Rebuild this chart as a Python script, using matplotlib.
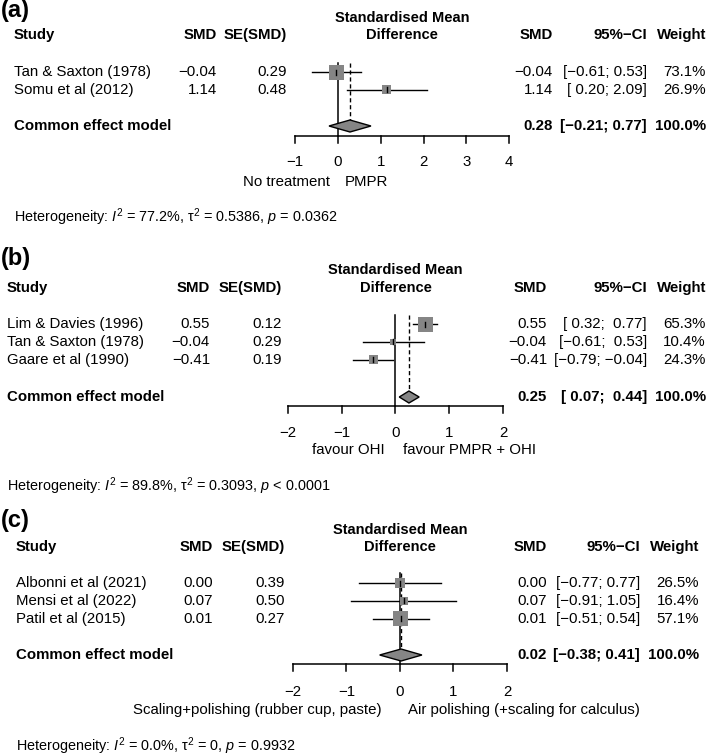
import numpy as np
import matplotlib.pyplot as plt
from matplotlib.patches import Polygon

plt.rcParams['font.family'] = ['Liberation Sans', 'DejaVu Sans']
plt.rcParams['mathtext.fontset'] = 'custom'
plt.rcParams['mathtext.rm'] = 'Liberation Sans'
plt.rcParams['mathtext.it'] = 'Liberation Sans:italic'
plt.rcParams['mathtext.bf'] = 'Liberation Sans:bold'

# ---- panel (a) ----
studies_a = ["Tan & Saxton (1978)", "Somu et al (2012)"]
smd_a = [-0.04, 1.14]
se_a = [0.29, 0.48]
lo_a = [-0.61, 0.20]
hi_a = [0.53, 2.09]
weight_a = [73.1, 26.9]
pooled_a = [0.28, -0.21, 0.77]
ticks_a = [-1, 0, 1, 2, 3, 4]
sides_a = ["No treatment", "PMPR"]
het_a = ["77.2%", "0.5386", "= 0.0362"]

# ---- panel (b) ----
studies_b = ["Lim & Davies (1996)", "Tan & Saxton (1978)", "Gaare et al (1990)"]
smd_b = [0.55, -0.04, -0.41]
se_b = [0.12, 0.29, 0.19]
lo_b = [0.32, -0.61, -0.79]
hi_b = [0.77, 0.53, -0.04]
weight_b = [65.3, 10.4, 24.3]
pooled_b = [0.25, 0.07, 0.44]
ticks_b = [-2, -1, 0, 1, 2]
sides_b = ["favour OHI", "favour PMPR + OHI"]
het_b = ["89.8%", "0.3093", "< 0.0001"]

# ---- panel (c) ----
studies_c = ["Albonni et al (2021)", "Mensi et al (2022)", "Patil et al (2015)"]
smd_c = [0.00, 0.07, 0.01]
se_c = [0.39, 0.50, 0.27]
lo_c = [-0.77, -0.91, -0.51]
hi_c = [0.77, 1.05, 0.54]
weight_c = [26.5, 16.4, 57.1]
pooled_c = [0.02, -0.38, 0.41]
ticks_c = [-2, -1, 0, 1, 2]
sides_c = ["Scaling+polishing (rubber cup, paste)", "Air polishing (+scaling for calculus)"]
het_c = ["0.0%", "0", "= 0.9932"]

W, H = 709, 756
FS = 10.8
SQ_GREY = "#858585"

fig = plt.figure(figsize=(W / 100, H / 100), dpi=100)
base = fig.add_axes([0, 0, 1, 1])
base.set_xlim(0, W)
base.set_ylim(H, 0)
base.axis("off")


def fmt(v):
    return f"{v:.2f}".replace("-", "\u2212")


def fmt_ci(los, his):
    ls = [fmt(v) for v in los]
    hs = [fmt(v) for v in his]
    wl = max(len(s) for s in ls)
    wh = max(len(s) for s in hs)
    return [f"[{l:>{wl}}; {h:>{wh}}]" for l, h in zip(ls, hs)]


def draw_panel(tag, lay, studies, smd, se, lo, hi, weight, pooled, ticks, sides, het):
    n = len(studies)
    rows = lay["row0"] + np.arange(n) * 17.8
    ysum = lay["summ"]

    # text columns
    base.text(1, lay["tag"], tag, fontsize=17, fontweight="bold", va="center", ha="left")
    base.text(lay["cx"], lay["head"] - 17.5, "Standardised Mean", fontsize=FS - 0.3,
              fontweight="bold", ha="center", va="center")
    base.text(lay["cx"], lay["head"], "Difference", fontsize=FS - 0.3,
              fontweight="bold", ha="center", va="center")
    base.text(lay["left"], lay["head"], "Study", fontsize=FS, fontweight="bold", va="center")
    base.text(lay["c_smd"], lay["head"], "SMD", fontsize=FS, fontweight="bold", va="center", ha="right")
    base.text(lay["c_se"], lay["head"], "SE(SMD)", fontsize=FS, fontweight="bold", va="center", ha="right")
    base.text(lay["r_smd"], lay["head"], "SMD", fontsize=FS, fontweight="bold", va="center", ha="right")
    base.text(lay["r_ci"], lay["head"], "95%\u2212CI", fontsize=FS, fontweight="bold", va="center", ha="right")
    base.text(lay["r_w"], lay["head"], "Weight", fontsize=FS, fontweight="bold", va="center", ha="right")

    cis = fmt_ci(list(lo) + [pooled[1]], list(hi) + [pooled[2]])
    for i in range(n):
        y = rows[i]
        base.text(lay["left"], y, studies[i], fontsize=FS, va="center")
        base.text(lay["c_smd"], y, fmt(smd[i]), fontsize=FS, va="center", ha="right")
        base.text(lay["c_se"], y, fmt(se[i]), fontsize=FS, va="center", ha="right")
        base.text(lay["r_smd"], y, fmt(smd[i]), fontsize=FS, va="center", ha="right")
        base.text(lay["r_ci"], y, cis[i], fontsize=FS, va="center", ha="right")
        base.text(lay["r_w"], y, f"{weight[i]:.1f}%", fontsize=FS, va="center", ha="right")

    base.text(lay["left"], ysum, "Common effect model", fontsize=FS, fontweight="bold", va="center")
    base.text(lay["r_smd"], ysum, fmt(pooled[0]), fontsize=FS, fontweight="bold", va="center", ha="right")
    base.text(lay["r_ci"], ysum, cis[-1], fontsize=FS, fontweight="bold", va="center", ha="right")
    base.text(lay["r_w"], ysum, "100.0%", fontsize=FS, fontweight="bold", va="center", ha="right")

    base.text(lay["left"], lay["het"],
              f"Heterogeneity: $I^2$ = {het[0]}, \u03c4$^2$ = {het[1]}, $p$ {het[2]}",
              fontsize=FS - 0.4, va="center")

    # forest part in SMD units
    ax = fig.add_axes([0, 0, 1, 1])
    ax.set_xlim(-lay["x0"] / lay["scale"], (W - lay["x0"]) / lay["scale"])
    ax.set_ylim(H, 0)
    ax.axis("off")

    yax = lay["axis"]
    ax.plot([0, 0], [lay["vtop"], yax], color="black", lw=1.1)
    ax.plot([pooled[0], pooled[0]], [lay["vtop"], ysum - 6], color="black", lw=1.0,
            linestyle=(0, (3, 2)))

    wmax = max(weight)
    for i in range(n):
        ax.plot([lo[i], hi[i]], [rows[i], rows[i]], color="black", lw=1.0, zorder=3)
        side = 15 * np.sqrt(weight[i] / wmax)
        ax.scatter([smd[i]], [rows[i]], marker="s", s=(side * 0.72) ** 2,
                   color=SQ_GREY, edgecolor="none", zorder=4)
        ax.plot([smd[i], smd[i]], [rows[i] - 2.5, rows[i] + 2.5], color="black", lw=1.0, zorder=5)

    dia = Polygon([(pooled[1], ysum), (pooled[0], ysum - 6), (pooled[2], ysum), (pooled[0], ysum + 6)],
                  closed=True, facecolor=SQ_GREY, edgecolor="black", lw=1.0, zorder=4)
    ax.add_patch(dia)

    ax.plot([ticks[0], ticks[-1]], [yax, yax], color="black", lw=1.1)
    for t in ticks:
        ax.plot([t, t], [yax, yax + 7], color="black", lw=1.1)
        ax.text(t, lay["tick_y"], fmt(t)[:-3] if t != 0 else "0", fontsize=FS,
                ha="center", va="center")

    base.text(lay["lab_l"], lay["lab_y"], sides[0], fontsize=FS, ha="right", va="center")
    base.text(lay["lab_r"], lay["lab_y"], sides[1], fontsize=FS, ha="left", va="center")


lay_a = dict(tag=10, head=35, left=14, c_smd=217, c_se=287, r_smd=553, r_ci=647, r_w=706,
             cx=402, row0=72, summ=126, axis=136, tick_y=162, lab_y=182, lab_l=330, lab_r=345,
             het=217, x0=338, scale=42.8, vtop=63)
lay_b = dict(tag=258, head=288, left=7, c_smd=210, c_se=282, r_smd=547, r_ci=647, r_w=706,
             cx=395.5, row0=324, summ=397, axis=406, tick_y=433, lab_y=450, lab_l=385, lab_r=403,
             het=486, x0=395.5, scale=53.75, vtop=315)
lay_c = dict(tag=520, head=547, left=16, c_smd=213, c_se=285, r_smd=547, r_ci=640, r_w=699,
             cx=400, row0=583, summ=655, axis=664, tick_y=692, lab_y=710, lab_l=382, lab_r=408,
             het=746, x0=400, scale=53.5, vtop=573)

draw_panel("(a)", lay_a, studies_a, smd_a, se_a, lo_a, hi_a, weight_a, pooled_a, ticks_a, sides_a, het_a)
draw_panel("(b)", lay_b, studies_b, smd_b, se_b, lo_b, hi_b, weight_b, pooled_b, ticks_b, sides_b, het_b)
draw_panel("(c)", lay_c, studies_c, smd_c, se_c, lo_c, hi_c, weight_c, pooled_c, ticks_c, sides_c, het_c)

fig.savefig("out.png", dpi=100)
